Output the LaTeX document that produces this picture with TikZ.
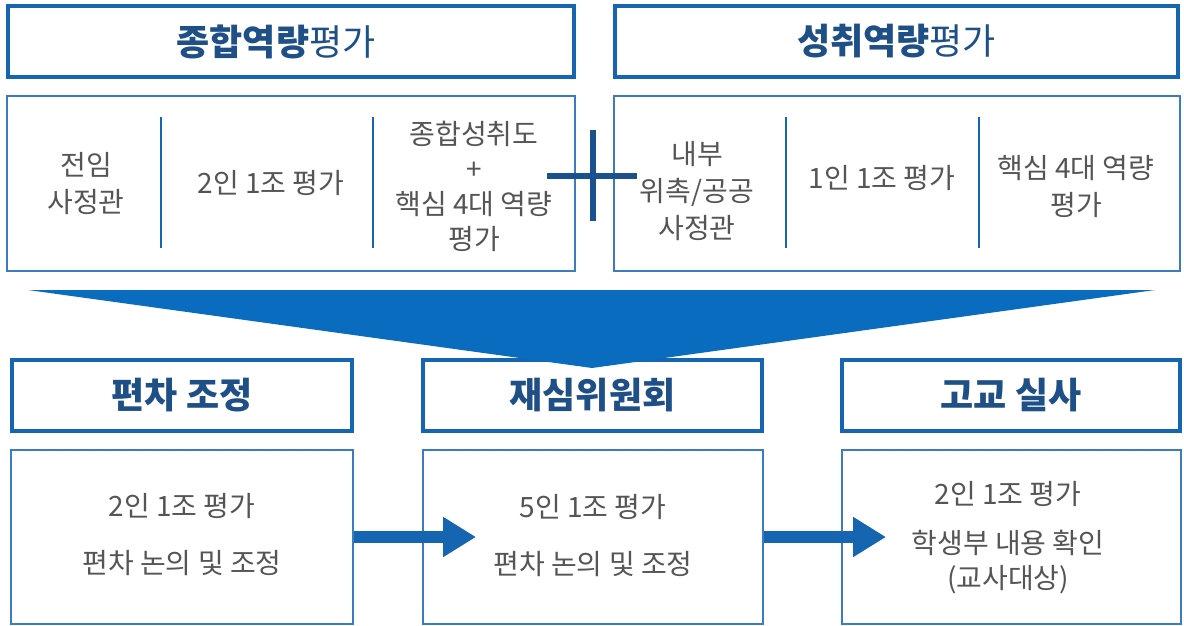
\documentclass[tikz,border=0pt]{standalone}
\usepackage{fontspec}
\setmainfont{Noto Sans CJK KR}
\usetikzlibrary{arrows.meta}
\definecolor{hblue}{HTML}{1565B0}
\definecolor{tblue}{HTML}{1E4F86}
\definecolor{lblue}{HTML}{3B7BBE}
\definecolor{fblue}{HTML}{0A6CBF}
\definecolor{pblue}{HTML}{1A5290}
\definecolor{tgray}{HTML}{555555}
\tikzset{
  hdr/.style={draw=hblue, line width=4pt, fill=white, minimum height=71pt, inner sep=0pt,
     font=\fontsize{36}{40}\selectfont, text=tblue},
  cbox/.style={draw=lblue, line width=1.2pt, fill=white, minimum height=175pt, inner sep=0pt},
  ctext/.style={align=center, text=tgray, font=\fontsize{28}{37}\selectfont, inner sep=0pt},
  btext/.style={align=center, text=tgray, font=\fontsize{28}{57}\selectfont, inner sep=0pt},
  divider/.style={draw=hblue, line width=2.6pt},
  plusbar/.style={draw=pblue, line width=6pt},
  flow/.style={draw=hblue, line width=12pt, -{Triangle[length=33pt,width=38pt]}},
}
\begin{document}
\begin{tikzpicture}[x=1pt,y=-1pt]
\useasboundingbox (0,0) rectangle (1184,625);
% top headers
\node[hdr, minimum width=566pt] (h1) at (291,41.5) {\textbf{종합역량}평가\hspace*{30pt}};
\node[hdr, minimum width=563pt] (h2) at (896.5,41.5) {\textbf{성취역량}평가};
% top content boxes
\node[cbox, minimum width=568pt] (c1) at (291,183.5) {};
\node[cbox, minimum width=566pt] (c2) at (897,183.5) {};
% dividers
\coordinate (d1a) at (161,117); \coordinate (d1b) at (161,248);
\coordinate (d2a) at (373,117); \coordinate (d2b) at (373,248);
\coordinate (d3a) at (786,117); \coordinate (d3b) at (786,248);
\coordinate (d4a) at (979,117); \coordinate (d4b) at (979,248);
\draw[divider] (d1a) -- (d1b);
\draw[divider] (d2a) -- (d2b);
\draw[divider] (d3a) -- (d3b);
\draw[divider] (d4a) -- (d4b);
% top texts
\node[ctext] (t11) at (86,184) {전임\\사정관};
\node[ctext] (t12) at (271,183) {2인 1조 평가};
\node[ctext, font=\fontsize{28}{35}\selectfont] (t13) at (474,186) {종합성취도\\+\\핵심 4대 역량\\평가};
\node[ctext] (t21) at (697,191) {내부\\위촉/공공\\사정관};
\node[ctext] (t22) at (882,178) {1인 1조 평가};
\node[ctext] (t23) at (1076,186) {핵심 4대 역량\\평가};
% plus sign
\coordinate (pl) at (547,176); \coordinate (pr) at (637,176);
\coordinate (pt) at (593,130); \coordinate (pb) at (593,221);
\draw[plusbar] (pl) -- (pr);
\draw[plusbar] (pt) -- (pb);
% bottom headers
\node[hdr, minimum width=340pt] (b1) at (182,395.5) {\textbf{편차 조정}};
\node[hdr, minimum width=339pt] (b2) at (592.5,395.5) {\textbf{재심위원회}};
\node[hdr, minimum width=338pt] (b3) at (1011,395.5) {\textbf{고교 실사}};
% funnel
\coordinate (fl) at (28,290); \coordinate (fr) at (1155,290); \coordinate (fa) at (592,368);
\fill[fblue] (fl) -- (fr) -- (fa) -- cycle;
% bottom content boxes
\node[cbox, minimum width=342pt, minimum height=174pt] (e1) at (182,537) {};
\node[cbox, minimum width=340pt, minimum height=174pt] (e2) at (593,537) {};
\node[cbox, minimum width=339pt, minimum height=174pt] (e3) at (1011.5,537) {};
\node[btext] (s1) at (182,535) {2인 1조 평가\\편차 논의 및 조정};
\node[btext] (s2) at (593,536) {5인 1조 평가\\편차 논의 및 조정};
\node[ctext, font=\fontsize{28}{35}\selectfont] (s3) at (1008,538) {2인 1조 평가\\[0.5em]학생부 내용 확인\\(교사대상)};
% arrows
\coordinate (a1) at (476,537); \coordinate (a2) at (886,537);
\draw[flow] (e1.east) -- (a1);
\draw[flow] (e2.east) -- (a2);
\end{tikzpicture}
\end{document}
